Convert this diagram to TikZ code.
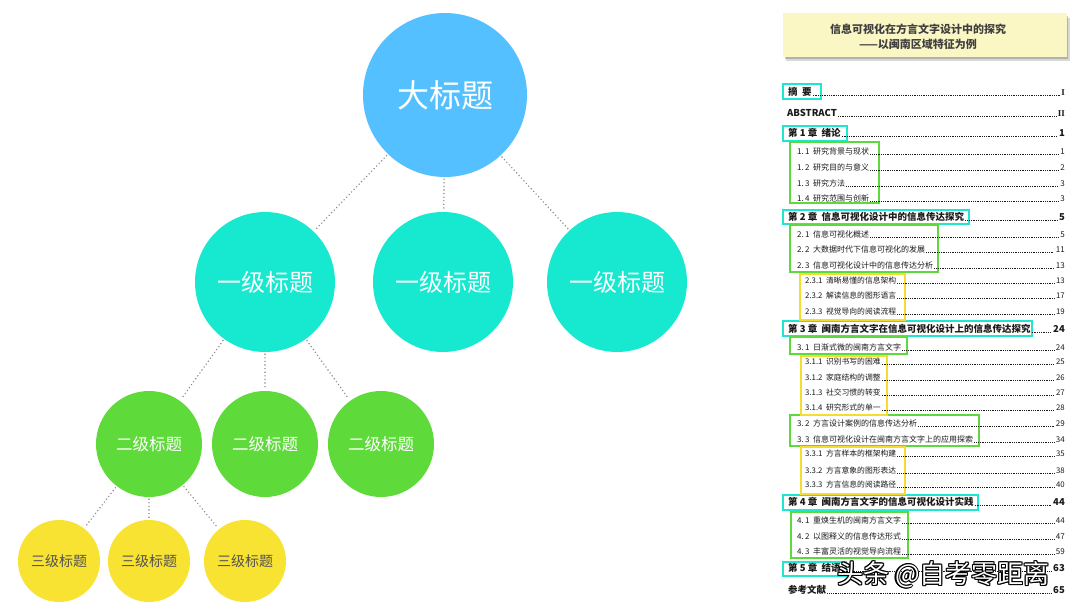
\documentclass[tikz,border=0pt]{standalone}
\usepackage{fontspec}
\newfontfamily\cjk{Noto Sans CJK SC}
\newfontfamily\serifrm{Liberation Serif}
\definecolor{cblue}{HTML}{55C0FF}
\definecolor{cturq}{HTML}{17E8D0}
\definecolor{cgreen}{HTML}{5EDB3A}
\definecolor{cyellow}{HTML}{F8E232}
\definecolor{bcyan}{HTML}{1FE6D3}
\definecolor{bgreen}{HTML}{5DD93C}
\definecolor{byellow}{HTML}{F5DC30}
\definecolor{titlebg}{HTML}{FAF7C4}
\definecolor{conngray}{HTML}{8A8A8A}
\definecolor{tocink}{HTML}{1A1A1A}
\tikzset{
  bubble/.style={circle, inner sep=0pt, text=white},
  bigc/.style={bubble, fill=cblue, minimum size=164pt, font=\cjk\fontsize{32}{36}\selectfont},
  lone/.style={bubble, fill=cturq, minimum size=140pt, font=\cjk\fontsize{24}{28}\selectfont},
  ltwo/.style={bubble, fill=cgreen, minimum size=106pt, font=\cjk\fontsize{16.5}{20}\selectfont},
  lthree/.style={bubble, fill=cyellow, minimum size=82pt, text=black!68, font=\cjk\fontsize{14}{17}\selectfont},
  conn/.style={draw=conngray, line width=1.6pt, line cap=round, dash pattern=on 0pt off 3.6pt, shorten <=2pt, shorten >=2pt},
  tocnode/.style={inner sep=0pt, text=tocink},
  chap/.style={font=\cjk\bfseries\fontsize{9.5}{11}\selectfont},
  sec/.style={font=\cjk\fontsize{8}{10}\selectfont},
  subsec/.style={font=\cjk\fontsize{7.8}{9}\selectfont},
  romanp/.style={font=\serifrm\bfseries\fontsize{9}{10}\selectfont},
  leader/.style={draw=tocink, line width=0.55pt, dash pattern=on 0.55pt off 1.25pt},
  cyanbox/.style={draw=bcyan, line width=2.4pt},
  greenbox/.style={draw=bgreen, line width=2.4pt},
  yellowbox/.style={draw=byellow, line width=2.4pt},
}
\newcommand\tocentry[7]{%
  \node[tocnode,#4,anchor=base west] (#1) at (#2,#3) {#5};
  \node[tocnode,#7,anchor=base east] (#1p) at (1065,#3) {#6};
  \draw[leader] ([xshift=1pt]#1.base east) -- ([xshift=-1.5pt]#1p.base west);
}
\begin{document}
\begin{tikzpicture}[x=1pt,y=-1pt]
\useasboundingbox (0,0) rectangle (1080,608);
\fill[white] (0,0) rectangle (1080,608);

% ---------- tree ----------
\node[bigc] (top) at (445,95) {大标题};
\node[lone] (a1) at (265,282) {一级标题};
\node[lone] (a2) at (443,282) {一级标题};
\node[lone] (a3) at (617,282) {一级标题};
\node[ltwo] (b1) at (149,444) {二级标题};
\node[ltwo] (b2) at (265,444) {二级标题};
\node[ltwo] (b3) at (381,444) {二级标题};
\node[lthree] (c1) at (59,561) {三级标题};
\node[lthree] (c2) at (149,561) {三级标题};
\node[lthree] (c3) at (245,561) {三级标题};

\draw[conn] (top) -- (a1);
\draw[conn] (top) -- (a2);
\draw[conn] (top) -- (a3);
\draw[conn] (a1) -- (b1);
\draw[conn] (a1) -- (b2);
\draw[conn] (a1) -- (b3);
\draw[conn] (b1) -- (c1);
\draw[conn] (b1) -- (c2);
\draw[conn] (b1) -- (c3);

% ---------- title card ----------
\fill[black!30, opacity=0.5] (786,18) rectangle (1070,61);
\fill[black!45, opacity=0.5] (785,16) rectangle (1068,59);
\fill[titlebg] (783,13) rectangle (1067,57);
\node[font=\cjk\bfseries\fontsize{11}{13}\selectfont, text=black!75] (title1) at (918,29) {信息可视化在方言文字设计中的探究};
\node[font=\cjk\bfseries\fontsize{11}{13}\selectfont, text=black!75] (title2) at (918,44) {——以闽南区域特征为例};

% ---------- frames ----------
\draw[cyanbox] (783,84) rectangle (821,99);
\draw[cyanbox] (783,126) rectangle (847,141);
\draw[cyanbox] (783,210) rectangle (969,224);
\draw[cyanbox] (783,321) rectangle (1032,336);
\draw[cyanbox] (783,495) rectangle (978,510);
\draw[cyanbox] (783,562) rectangle (846,576);
\draw[greenbox] (790,142) rectangle (879,203);
\draw[greenbox] (790,225) rectangle (938,272);
\draw[greenbox] (790,337) rectangle (907,354);
\draw[greenbox] (790,415) rectangle (979,446);
\draw[greenbox] (791,512) rectangle (908,558);
\draw[yellowbox] (800,274) rectangle (905,320);
\draw[yellowbox] (801,356) rectangle (887,415);
\draw[yellowbox] (801,447) rectangle (905,494);

% ---------- table of contents ----------
\tocentry{zy}{788}{95.5}{chap}{摘\ \ 要}{I}{romanp}
\tocentry{abs}{787}{116.5}{chap}{ABSTRACT}{II}{romanp}
\tocentry{ch1}{788}{136.5}{chap}{第 1 章\ \ 绪论}{1}{chap}
\tocentry{s11}{797}{154}{sec}{1.\,1\ \ 研究背景与现状}{1}{sec}
\tocentry{s12}{797}{170}{sec}{1.\,2\ \ 研究目的与意义}{2}{sec}
\tocentry{s13}{797}{186}{sec}{1.\,3\ \ 研究方法}{3}{sec}
\tocentry{s14}{797}{201}{sec}{1.\,4\ \ 研究范围与创新}{3}{sec}
\tocentry{ch2}{788}{220.5}{chap}{第 2 章\ \ 信息可视化设计中的信息传达探究}{5}{chap}
\tocentry{s21}{797}{237}{sec}{2.\,1\ \ 信息可视化概述}{5}{sec}
\tocentry{s22}{797}{252}{sec}{2.\,2\ \ 大数据时代下信息可视化的发展}{11}{sec}
\tocentry{s23}{797}{268}{sec}{2.\,3\ \ 信息可视化设计中的信息传达分析}{13}{sec}
\tocentry{s231}{805}{283}{subsec}{2.3.1\ \ 清晰易懂的信息架构}{13}{subsec}
\tocentry{s232}{805}{298}{subsec}{2.3.2\ \ 解读信息的图形语言}{17}{subsec}
\tocentry{s233}{805}{314}{subsec}{2.3.3\ \ 视觉导向的阅读流程}{19}{subsec}
\tocentry{ch3}{788}{332.5}{chap}{第 3 章\ \ 闽南方言文字在信息可视化设计上的信息传达探究}{24}{chap}
\tocentry{s31}{797}{350}{sec}{3.\,1\ \ 日渐式微的闽南方言文字}{24}{sec}
\tocentry{s311}{805}{364}{subsec}{3.1.1\ \ 识别书写的困难}{25}{subsec}
\tocentry{s312}{805}{380}{subsec}{3.1.2\ \ 家庭结构的调整}{26}{subsec}
\tocentry{s313}{805}{395}{subsec}{3.1.3\ \ 社交习惯的转变}{27}{subsec}
\tocentry{s314}{805}{410}{subsec}{3.1.4\ \ 研究形式的单一}{28}{subsec}
\tocentry{s32}{797}{426}{sec}{3.\,2\ \ 方言设计案例的信息传达分析}{29}{sec}
\tocentry{s33}{797}{442}{sec}{3.\,3\ \ 信息可视化设计在闽南方言文字上的应用探索}{34}{sec}
\tocentry{s331}{805}{456}{subsec}{3.3.1\ \ 方言样本的框架构建}{35}{subsec}
\tocentry{s332}{805}{473}{subsec}{3.3.2\ \ 方言意象的图形表达}{38}{subsec}
\tocentry{s333}{805}{487}{subsec}{3.3.3\ \ 方言信息的阅读路径}{40}{subsec}
\tocentry{ch4}{788}{505.5}{chap}{第 4 章\ \ 闽南方言文字的信息可视化设计实践}{44}{chap}
\tocentry{s41}{797}{523}{sec}{4.\,1\ \ 重焕生机的闽南方言文字}{44}{sec}
\tocentry{s42}{797}{539}{sec}{4.\,2\ \ 以图释义的信息传达形式}{47}{sec}
\tocentry{s43}{797}{554}{sec}{4.\,3\ \ 丰富灵活的视觉导向流程}{59}{sec}
\tocentry{ch5}{788}{571.5}{chap}{第 5 章\ \ 结语}{63}{chap}
\tocentry{ref}{788}{593.5}{chap}{参考文献}{65}{chap}

% ---------- watermark ----------
\foreach \dx/\dy [count=\k] in {-1.1/0,1.1/0,0/-1.1,0/1.1,-0.8/-0.8,0.8/0.8,-0.8/0.8,0.8/-0.8}
  \node[anchor=west, inner sep=0pt, text=black, font=\cjk\fontsize{26}{30}\selectfont] (wmo\k) at (837+\dx,575+\dy) {头条 @自考零距离};
\node[anchor=west, inner sep=0pt, text=white, font=\cjk\fontsize{26}{30}\selectfont] (wm) at (837,575) {头条 @自考零距离};
\end{tikzpicture}
\end{document}
